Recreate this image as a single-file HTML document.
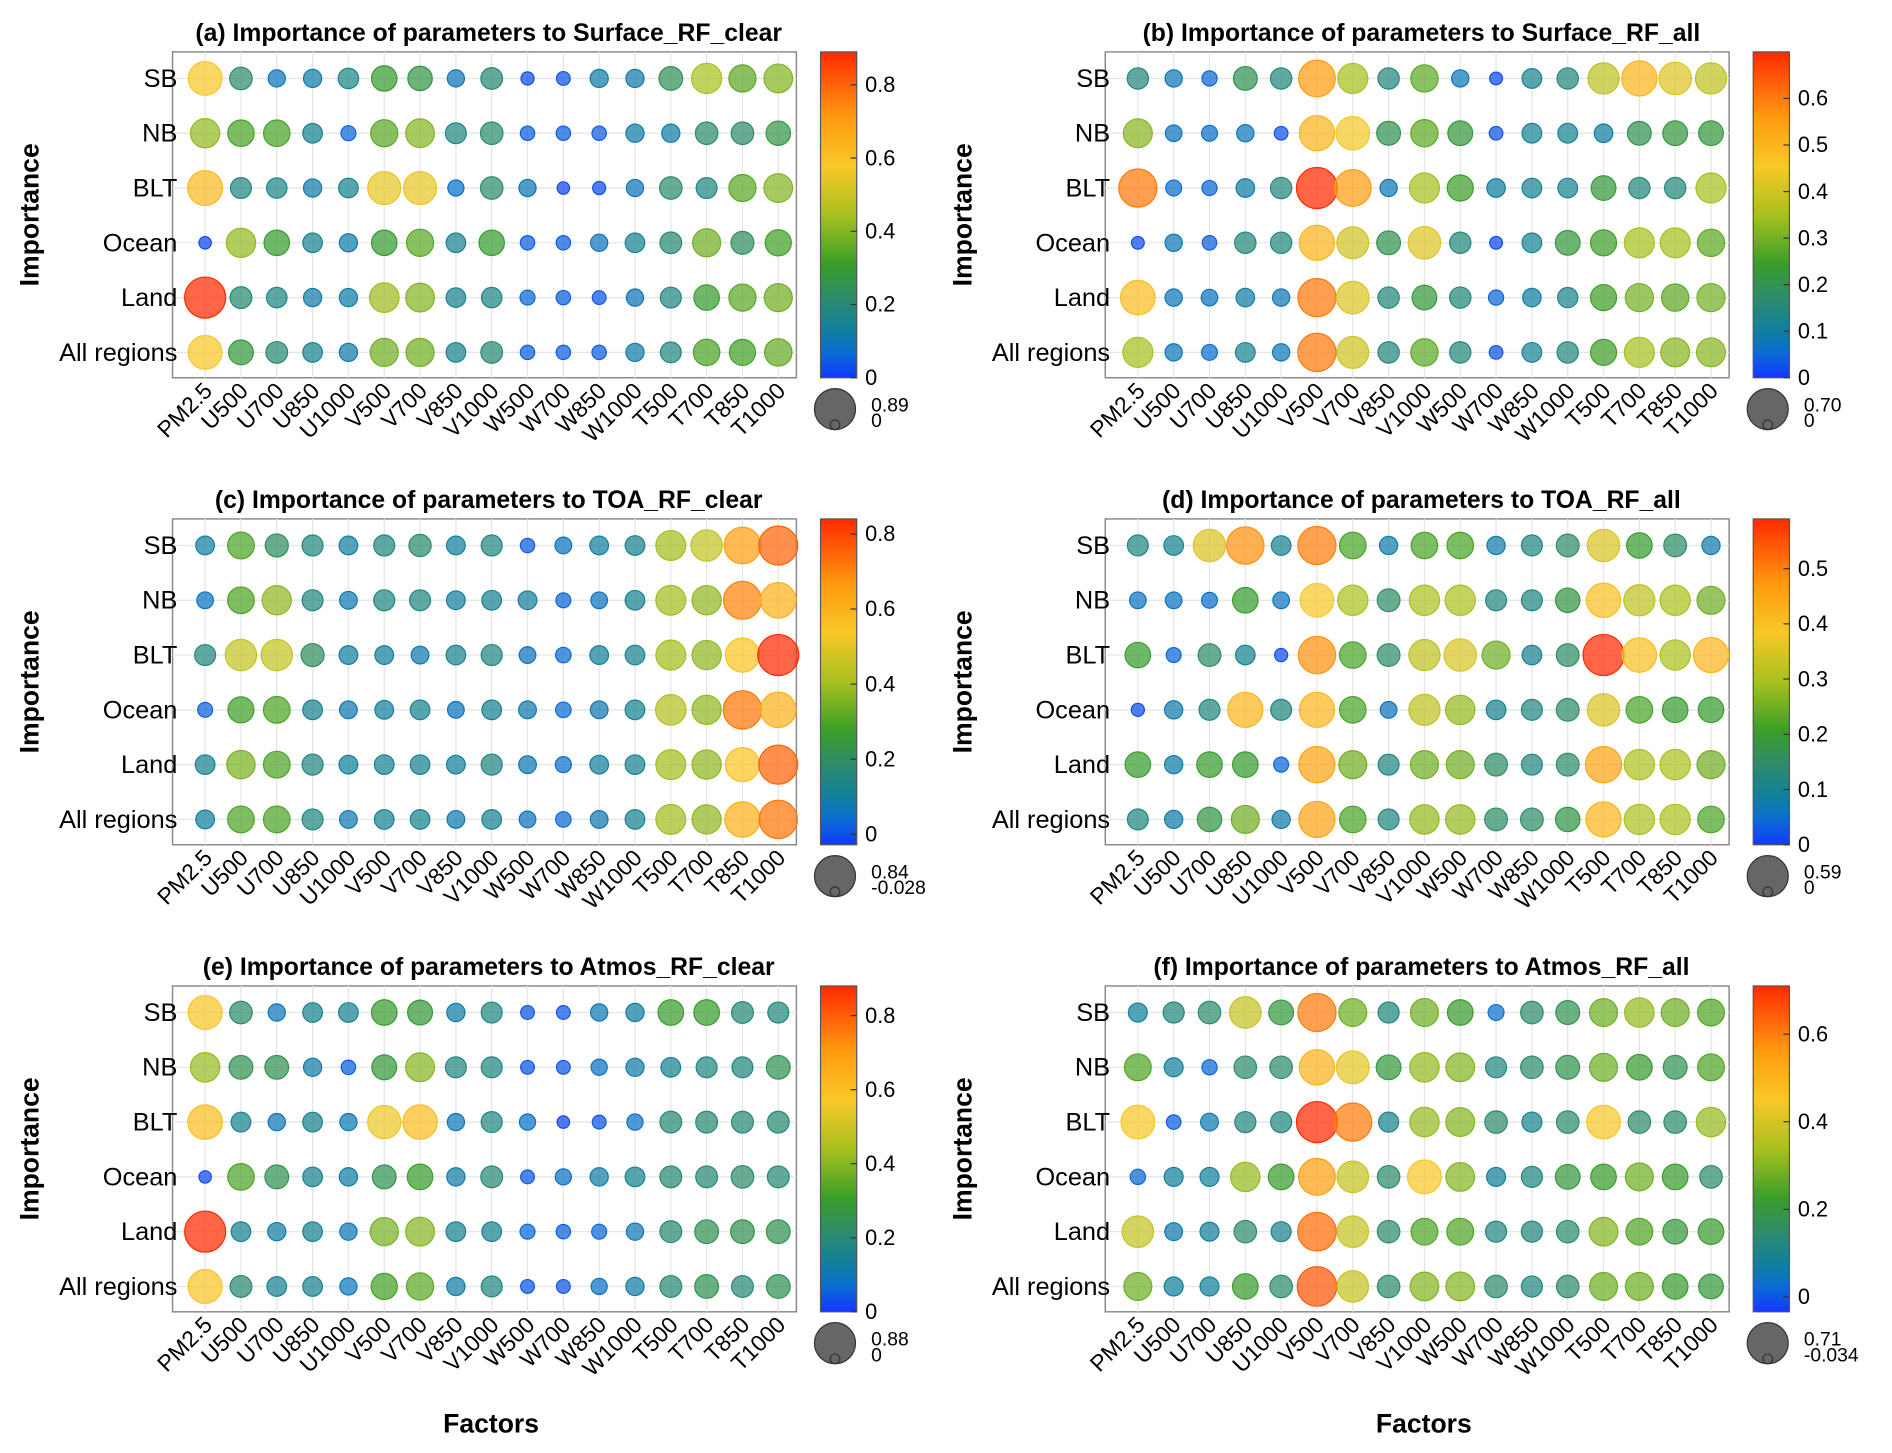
<!DOCTYPE html>
<html><head><meta charset="utf-8">
<style>
html,body{margin:0;padding:0;background:#fff;}
svg{display:block;font-family:"Liberation Sans",Arial,sans-serif;}
</style></head>
<body>
<svg id="fig" width="1892" height="1453" viewBox="0 0 1568 1204" preserveAspectRatio="none" xmlns="http://www.w3.org/2000/svg">
<defs>
<linearGradient id="cmap" x1="0" y1="1" x2="0" y2="0">
<stop offset="0" stop-color="#1238ff"/>
<stop offset="0.08" stop-color="#0a6ed0"/>
<stop offset="0.15" stop-color="#12809c"/>
<stop offset="0.25" stop-color="#2e8c68"/>
<stop offset="0.35" stop-color="#3a9e28"/>
<stop offset="0.5" stop-color="#a8c020"/>
<stop offset="0.65" stop-color="#f8c828"/>
<stop offset="0.8" stop-color="#ff9a10"/>
<stop offset="1" stop-color="#ff2a00"/>
</linearGradient>
</defs>
</svg>
<script>
const factors=["PM2.5","U500","U700","U850","U1000","V500","V700","V850","V1000","W500","W700","W850","W1000","T500","T700","T850","T1000"];
const regions=["SB","NB","BLT","Ocean","Land","All regions"];
const titles=["(a) Importance of parameters to Surface_RF_clear","(b) Importance of parameters to Surface_RF_all","(c) Importance of parameters to TOA_RF_clear","(d) Importance of parameters to TOA_RF_all","(e) Importance of parameters to Atmos_RF_clear","(f) Importance of parameters to Atmos_RF_all"];
const cmin=[0,0,-0.028,0,0,-0.034];
const cmax=[0.89,0.70,0.84,0.59,0.88,0.71];
const minLabels=["0","0","-0.028","0","0","-0.034"];
const maxLabels=["0.89","0.70","0.84","0.59","0.88","0.71"];
const cbTicks=[[0,0.2,0.4,0.6,0.8],[0,0.1,0.2,0.3,0.4,0.5,0.6],[0,0.2,0.4,0.6,0.8],[0,0.1,0.2,0.3,0.4,0.5],[0,0.2,0.4,0.6,0.8],[0,0.2,0.4,0.6]];
const dataA=[[.58,.22,.1,.12,.17,.3,.27,.1,.2,.03,.04,.12,.12,.25,.45,.35,.4],
[.42,.33,.33,.15,.06,.35,.4,.18,.22,.05,.05,.05,.12,.12,.22,.22,.27],
[.62,.18,.17,.12,.15,.55,.55,.08,.22,.1,.02,.03,.1,.22,.18,.35,.4],
[.02,.42,.3,.15,.12,.3,.35,.15,.3,.05,.05,.1,.15,.2,.38,.23,.32],
[.89,.2,.17,.12,.12,.43,.4,.15,.17,.06,.05,.04,.1,.18,.3,.35,.38],
[.58,.28,.2,.15,.12,.38,.38,.15,.2,.05,.05,.05,.12,.18,.33,.32,.36]];
const dataB=[[.15,.08,.05,.2,.15,.55,.35,.15,.28,.08,.02,.12,.15,.38,.5,.42,.38],
[.32,.07,.06,.08,.03,.5,.45,.2,.28,.22,.03,.12,.12,.1,.2,.22,.22],
[.6,.06,.05,.1,.15,.7,.55,.08,.35,.25,.1,.12,.12,.22,.15,.15,.35],
[.02,.08,.04,.15,.15,.5,.4,.2,.42,.15,.02,.12,.22,.25,.35,.35,.28],
[.48,.08,.07,.1,.08,.6,.42,.15,.22,.15,.05,.1,.13,.25,.3,.28,.3],
[.35,.08,.06,.12,.08,.6,.4,.15,.28,.15,.03,.12,.15,.25,.35,.32,.32]];
const dataC=[[.1,.3,.2,.15,.1,.15,.18,.1,.15,.02,.06,.1,.12,.4,.45,.65,.75],
[.06,.3,.38,.15,.08,.15,.15,.1,.12,.1,.03,.06,.12,.4,.38,.7,.6],
[.15,.45,.45,.2,.1,.1,.08,.12,.15,.06,.04,.1,.12,.4,.38,.55,.84],
[.03,.28,.3,.12,.08,.1,.12,.06,.12,.08,.04,.08,.12,.42,.38,.72,.6],
[.12,.35,.3,.15,.1,.12,.12,.1,.15,.08,.05,.1,.12,.4,.38,.55,.75],
[.1,.3,.3,.15,.08,.12,.12,.08,.12,.06,.04,.08,.12,.4,.38,.6,.72]];
const dataD=[[.12,.1,.35,.48,.1,.5,.22,.08,.22,.22,.08,.12,.15,.35,.2,.15,.08],
[.06,.06,.05,.2,.06,.38,.3,.15,.3,.3,.12,.12,.18,.4,.32,.3,.25],
[.2,.04,.15,.1,.02,.48,.22,.15,.32,.35,.25,.1,.15,.59,.4,.3,.42],
[.02,.08,.12,.42,.12,.42,.22,.06,.32,.28,.1,.12,.15,.35,.22,.2,.2],
[.2,.08,.2,.2,.04,.45,.25,.12,.25,.25,.15,.12,.15,.45,.3,.3,.25],
[.12,.08,.18,.25,.08,.45,.22,.12,.28,.28,.15,.15,.18,.42,.3,.3,.22]];
const dataE=[[.58,.22,.1,.15,.15,.3,.28,.12,.18,.04,.04,.1,.12,.3,.3,.2,.18],
[.42,.25,.25,.12,.05,.28,.4,.18,.18,.04,.04,.08,.12,.15,.18,.18,.25],
[.6,.15,.1,.15,.1,.55,.6,.1,.18,.08,.02,.04,.08,.2,.2,.2,.2],
[.02,.33,.25,.15,.12,.25,.3,.12,.2,.04,.08,.12,.15,.2,.2,.22,.2],
[.88,.15,.12,.15,.1,.38,.4,.15,.15,.06,.05,.06,.1,.2,.25,.25,.25],
[.58,.2,.15,.15,.1,.32,.35,.12,.18,.04,.04,.08,.12,.2,.25,.2,.25]];
const dataF=[[.08,.12,.15,.38,.2,.6,.28,.12,.28,.22,.03,.15,.18,.28,.32,.28,.25],
[.25,.08,.02,.15,.15,.5,.42,.2,.32,.3,.12,.15,.18,.28,.22,.18,.25],
[.45,.01,.06,.12,.12,.71,.6,.1,.32,.3,.15,.1,.15,.45,.15,.15,.32],
[.02,.08,.08,.32,.22,.55,.38,.15,.45,.3,.08,.12,.2,.22,.28,.22,.15],
[.38,.06,.08,.15,.1,.62,.38,.15,.25,.25,.12,.12,.15,.3,.25,.2,.22],
[.28,.08,.08,.22,.15,.65,.38,.15,.3,.3,.15,.12,.15,.28,.28,.22,.2]];
const allData=[dataA,dataB,dataC,dataD,dataE,dataF];

const stops=[[0,[18,56,255]],[.08,[10,110,208]],[.15,[18,128,156]],[.25,[46,140,104]],[.35,[58,158,40]],[.5,[168,192,32]],[.65,[248,200,40]],[.8,[255,154,16]],[1,[255,42,0]]];
function cmap(t){t=Math.max(0,Math.min(1,t));for(let i=1;i<stops.length;i++){if(t<=stops[i][0]){const a=stops[i-1],b=stops[i];const f=(t-a[0])/(b[0]-a[0]);const c=a[1].map((v,k)=>Math.round(v+(b[1][k]-v)*f));return `rgb(${c.join(',')})`;}}return 'rgb(255,42,0)';}
const NS="http://www.w3.org/2000/svg";
const svg=document.getElementById('fig');
function mk(tag,attrs,parent,text){const e=document.createElementNS(NS,tag);for(const k in attrs)e.setAttribute(k,attrs[k]);if(text!==undefined)e.textContent=text;(parent||svg).appendChild(e);return e;}
const X0=143,X1=660,Y0=43,Y1=313;
const colX=j=>170+j*(645-170)/16;
const rowY=i=>65+i*(292-65)/5;
const RMIN=4.5,RMAX=17;
for(let p=0;p<6;p++){
  const ox=(p%2)*773, oy=Math.floor(p/2)*387;
  const g=mk('g',{transform:`translate(${ox},${oy})`});
  
  
  const lo=cmin[p],hi=cmax[p];
  const yv=v=>Y1-(v-lo)/(hi-lo)*(Y1-Y0);
  const t=mk('text',{x:405,y:34,'text-anchor':'middle','font-size':20.5,'font-weight':'bold'},g,titles[p]);
  
  mk('rect',{x:X0,y:Y0,width:X1-X0,height:Y1-Y0,fill:'#fff',stroke:'#888','stroke-width':1.2},g);
  for(let j=0;j<17;j++)mk('line',{x1:colX(j),x2:colX(j),y1:Y0,y2:Y1,stroke:'#e4e4e4','stroke-width':1},g);
  for(let i=0;i<6;i++)mk('line',{x1:X0,x2:X1,y1:rowY(i),y2:rowY(i),stroke:'#e4e4e4','stroke-width':1},g);
  const d=allData[p];
  for(let i=0;i<6;i++){
    const lab=mk('text',{x:147,y:rowY(i)+7,'text-anchor':'end','font-size':21},g,regions[i]);
    
    for(let j=0;j<17;j++){
      const v=d[i][j];const tt=(v-lo)/(hi-lo);
      const r=Math.sqrt(RMIN*RMIN+(RMAX*RMAX-RMIN*RMIN)*Math.max(0,tt));
      const col=cmap(tt);
      const c=mk('circle',{cx:colX(j),cy:rowY(i),r:r,fill:col,'fill-opacity':0.72,stroke:col,'stroke-width':1},g);
      
    }
  }
  for(let j=0;j<17;j++){
    const x=colX(j)+7,y=325;
    const tl=mk('text',{x:x,y:y,'text-anchor':'end','font-size':19,transform:`rotate(-45 ${x} ${y})`},g,factors[j]);
    
  }
  const yt=mk('text',{x:32,y:178,'text-anchor':'middle','font-size':22,'font-weight':'bold',transform:'rotate(-90 32 178)'},g,'Importance');
  
  const cb=mk('rect',{x:680,y:Y0,width:30,height:Y1-Y0,fill:'url(#cmap)',stroke:'#555','stroke-width':1},g);
  
  cbTicks[p].forEach(v=>{const y=yv(v);
    mk('line',{x1:705,x2:710,y1:y,y2:y,stroke:'#333'},g);
    const tl=mk('text',{x:717,y:y+6,'font-size':18},g,String(v));
    });
  const sl=mk('g',{},g);
  
  mk('circle',{cx:692,cy:339,r:17,fill:'#666',stroke:'#333','stroke-width':1},sl);
  mk('circle',{cx:692,cy:352,r:4,fill:'#666',stroke:'#333','stroke-width':1},sl);
  mk('text',{x:722,y:341,'font-size':16},sl,maxLabels[p]);
  mk('text',{x:722,y:354,'font-size':16},sl,minLabels[p]);
}
[[407],[1180]].forEach(a=>{const ft=mk('text',{x:a[0],y:1187,'text-anchor':'middle','font-size':22,'font-weight':'bold'},svg,'Factors');
});
</script>
</body></html>
